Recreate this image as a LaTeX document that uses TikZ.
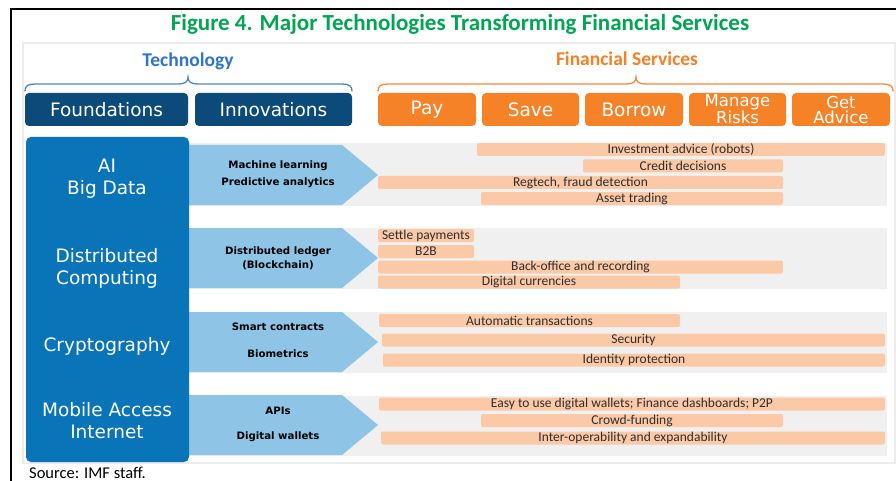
\documentclass[tikz,border=0pt]{standalone}
\usepackage{fontspec}
\setmainfont{Carlito}
\newfontfamily\djfont{DejaVu Sans}
\definecolor{navy}{RGB}{12,74,121}
\definecolor{midblue}{RGB}{10,116,185}
\definecolor{arrowblue}{RGB}{142,196,230}
\definecolor{bandgray}{RGB}{240,240,240}
\definecolor{panelgray}{RGB}{236,236,236}
\definecolor{peach}{RGB}{252,201,166}
\definecolor{orangebox}{RGB}{246,130,40}
\definecolor{titlegreen}{RGB}{0,166,81}
\definecolor{techblue}{RGB}{46,117,198}
\definecolor{fsorange}{RGB}{245,128,37}
\definecolor{braceblue}{RGB}{80,134,181}
\definecolor{braceorange}{RGB}{245,138,61}
\definecolor{bartext}{RGB}{45,45,45}
\tikzset{
  hdrbox/.style={rounded corners=4pt, text=white, inner sep=0pt, minimum height=33,
    font=\djfont\fontsize{18.5}{15}\selectfont, align=center},
  hdrtwo/.style={hdrbox, font=\djfont\fontsize{16.5}{15}\selectfont},
  barbox/.style={fill=peach, rounded corners=2pt, inner sep=0pt, minimum height=13,
    text=bartext, font=\fontsize{13.5}{13.5}\selectfont},
  arrtext/.style={font=\djfont\bfseries\fontsize{10.2}{10}\selectfont, text=black, inner sep=0pt},
  leftlabel/.style={font=\djfont\fontsize{18.5}{22}\selectfont, text=white, align=center, inner sep=0pt},
  chevron/.style={fill=arrowblue},
  band/.style={fill=bandgray},
  bracepath/.style={line width=1.3pt, line cap=round}
}
\begin{document}
\begin{tikzpicture}[x=1pt,y=-1pt]
\useasboundingbox (0,0) rectangle (896,481);
\fill[white] (0,0) rectangle (896,481);
% frame lines
\draw[black, line width=1.2pt] (10,9) -- (896,9);
\draw[black, line width=1.2pt] (11,9) -- (11,481);
% panel
\draw[panelgray, line width=1.5pt, fill=white] (23,43) rectangle (895,463);
% title
\node[font=\bfseries\fontsize{23}{23}\selectfont, text=titlegreen] (title) at (460,24) {Figure 4. Major Technologies Transforming Financial Services};
\node[font=\bfseries\fontsize{19.5}{19.5}\selectfont, text=techblue] (tech) at (188,61) {Technology};
\node[font=\bfseries\fontsize{19.5}{19.5}\selectfont, text=fsorange] (fs) at (627,59) {Financial Services};
% braces
\draw[bracepath, braceblue] (25,91) .. controls (25,86) and (28,84) .. (35,84) -- (178,84)
  .. controls (185,84) and (188,82) .. (188,77) .. controls (188,82) and (191,84) .. (198,84)
  -- (342,84) .. controls (349,84) and (352,86) .. (352,91);
\draw[bracepath, braceorange] (378,91) .. controls (378,86) and (381,84) .. (388,84) -- (626,84)
  .. controls (633,84) and (636,82) .. (636,77) .. controls (636,82) and (639,84) .. (646,84)
  -- (883,84) .. controls (890,84) and (893,86) .. (893,91);
% header boxes
\node[hdrbox, fill=navy, minimum width=163] (found) at (106.5,109.5) {Foundations};
\node[hdrbox, fill=navy, minimum width=157] (innov) at (273.5,109.5) {Innovations};
\node[hdrbox, fill=orangebox, minimum width=98] (pay) at (427,109.5) {Pay};
\node[hdrbox, fill=orangebox, minimum width=97] (save) at (530.5,109.5) {Save};
\node[hdrbox, fill=orangebox, minimum width=98] (borrow) at (634,109.5) {Borrow};
\node[hdrtwo, fill=orangebox, minimum width=97] (manage) at (737.5,109.5) {Manage\\Risks};
\node[hdrtwo, fill=orangebox, minimum width=98] (advice) at (841,109.5) {Get\\Advice};
% gray bands
\path[band] (189,143) rectangle (887,206);
\path[band] (189,228) rectangle (887,289);
\path[band] (189,312) rectangle (887,373);
\path[band] (189,396) rectangle (887,456);
% chevrons
\path[chevron] (185,145) -- (342,145) -- (378,175) -- (342,205) -- (185,205) -- cycle;
\path[chevron] (185,228) -- (342,228) -- (378,258) -- (342,288) -- (185,288) -- cycle;
\path[chevron] (185,312) -- (342,312) -- (378,342) -- (342,372) -- (185,372) -- cycle;
\path[chevron] (185,395) -- (342,395) -- (378,425) -- (342,455) -- (185,455) -- cycle;
% big blue column
\fill[midblue, rounded corners=5pt] (26,137) rectangle (189,462);
\node[leftlabel] (ai) at (107,178.5) {AI\\Big Data};
\node[leftlabel] (dc) at (107,268.5) {Distributed\\Computing};
\node[leftlabel] (crypto) at (107,346) {Cryptography};
\node[leftlabel] (mobile) at (107,420.5) {Mobile Access\\Internet};
% arrow texts
\node[arrtext] (ml) at (278,166) {Machine learning};
\node[arrtext] (pa) at (278,183) {Predictive analytics};
\node[arrtext] (dl) at (278,252) {Distributed ledger};
\node[arrtext] (bc) at (278,265) {(Blockchain)};
\node[arrtext] (sc) at (278,327) {Smart contracts};
\node[arrtext] (bio) at (278,354) {Biometrics};
\node[arrtext] (api) at (278,411) {APIs};
\node[arrtext] (dw) at (278,437) {Digital wallets};
% bars row 1
\node[barbox, minimum width=408] (inv) at (681,149.5) {Investment advice (robots)};
\node[barbox, minimum width=200] (cred) at (683,166) {Credit decisions};
\node[barbox, minimum width=405] (reg) at (580.5,182.5) {Regtech, fraud detection};
\node[barbox, minimum width=302] (asset) at (632,198.5) {Asset trading};
% bars row 2
\node[barbox, minimum width=96] (settle) at (426,235.5) {Settle payments};
\node[barbox, minimum width=96] (b2b) at (426,251.5) {B2B};
\node[barbox, minimum width=405] (back) at (580.5,267) {Back-office and recording};
\node[barbox, minimum width=302] (digc) at (529,282) {Digital currencies};
% bars row 3
\node[barbox, minimum width=301] (auto) at (529.5,320.5) {Automatic transactions};
\node[barbox, minimum width=503] (sec) at (633.5,340) {Security};
\node[barbox, minimum width=502] (ident) at (634,360) {Identity protection};
% bars row 4
\node[barbox, minimum width=506] (easy) at (632,404) {Easy to use digital wallets; Finance dashboards; P2P};
\node[barbox, minimum width=302] (crowd) at (632,420.5) {Crowd-funding};
\node[barbox, minimum width=504] (inter) at (633,438) {Inter-operability and expandability};
% source
\node[anchor=west, font=\fontsize{16.5}{16.5}\selectfont, inner sep=0pt] (src) at (29,472.5) {Source: IMF staff.};
\end{tikzpicture}
\end{document}
